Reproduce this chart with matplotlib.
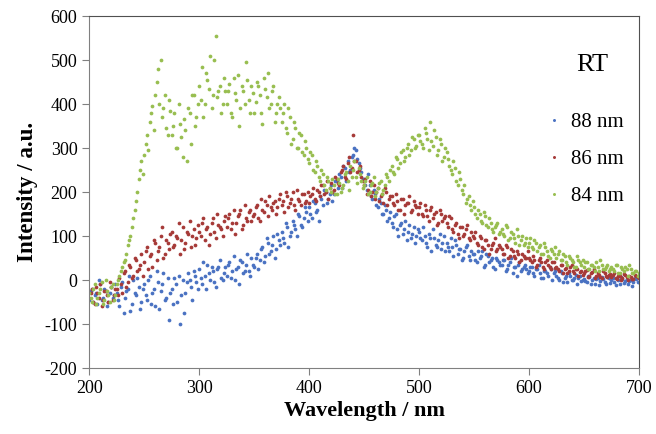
import numpy as np
import matplotlib.pyplot as plt

# wavelength grids (nm): two interleaved sets of readings, 2.5 nm apart each
wavelength = np.arange(200, 700.01, 2.5)
wavelength_b = np.arange(201.25, 700, 2.5)

# intensities (a.u.)
i88 = [
    -45, -20, -35, -55, -10, -40, -25, -50, -15, -35,
    -30, -60, -5, -40, -20, -70, 0, -35, -15, -50,
    -10, -45, 10, -30, -60, -5, -25, 15, -40, -90,
    -20, 5, -50, -100, 0, -30, 15, -15, 20, -5,
    25, -10, 10, 35, 0, 20, -15, 30, 5, 15,
    10, 40, 20, 0, 30, 45, 15, 35, 20, 50,
    30, 60, 45, 75, 55, 85, 65, 100, 70, 90,
    110, 85, 120, 100, 135, 115, 150, 125, 140, 155,
    165, 140, 175, 160, 190, 170, 200, 185, 215, 195,
    225, 240, 210, 255, 270, 250, 285, 295, 265, 245,
    230, 205, 215, 185, 195, 165, 175, 150, 160, 140,
    130, 145, 115, 125, 105, 135, 110, 95, 120, 100,
    110, 90, 100, 75, 95, 115, 80, 90, 70, 100,
    85, 65, 75, 90, 60, 70, 50, 75, 55, 65,
    60, 40, 50, 65, 35, 55, 45, 30, 50, 40,
    35, 45, 25, 40, 15, 30, 35, 20, 30, 25,
    20, 30, 10, 25, 15, 5, 20, 10, 25, 15,
    10, 0, 15, 5, -5, 10, 0, 12, 5, -2,
    3, -5, 8, 0, -8, 5, -3, 2, -10, 4,
    0, -5, 5, -8, 2, -3, -10, 0, -5, 3,
    -5,
]
i88_b = [
    -25, -50, -30, 0, -45, -20, -60, -30, -40, -10,
    -45, -15, -75, -25, 10, -55, -30, 5, -65, -20,
    -35, 0, -55, -20, 20, -65, -10, -45, 5, -30,
    -55, -10, 10, -35, -75, -5, 0, -45, 10, -20,
    5, 40, -20, 15, 30, -5, 25, 45, 0, 30,
    35, 5, 55, 25, -10, 40, 20, 60, 10, 35,
    50, 25, 70, 40, 95, 60, 80, 50, 105, 80,
    95, 130, 75, 110, 125, 100, 145, 120, 165, 135,
    150, 180, 155, 135, 185, 205, 175, 195, 180, 225,
    210, 235, 260, 225, 245, 280, 300, 275, 255, 230,
    215, 240, 190, 205, 170, 185, 150, 170, 135, 155,
    120, 150, 100, 130, 115, 90, 125, 105, 85, 115,
    95, 120, 85, 105, 65, 95, 75, 105, 85, 65,
    75, 95, 55, 80, 70, 45, 65, 80, 45, 60,
    45, 65, 55, 30, 60, 40, 50, 25, 45, 35,
    45, 20, 35, 50, 30, 10, 40, 25, 35, 15,
    30, 15, 25, 35, 5, 20, 15, 30, 0, 20,
    5, 20, -5, 10, 15, 0, 5, -8, 10, 0,
    -2, 10, -10, 5, 2, -12, 6, -4, 8, -6,
    4, -12, 0, 6, -6, 3, -2, -14, 5, -4,
]

i86 = [
    -40, -20, -55, -30, -10, -45, -25, -50, -15, -35,
    -20, 5, -30, 20, -5, 30, 10, 45, 25, 60,
    40, 75, 55, 30, 85, 65, 100, 50, 90, 70,
    110, 80, 95, 60, 120, 85, 105, 75, 115, 95,
    110, 130, 90, 120, 105, 140, 95, 125, 115, 135,
    120, 150, 130, 105, 145, 160, 125, 140, 155, 135,
    150, 170, 135, 160, 180, 145, 165, 175, 150, 185,
    170, 155, 190, 175, 200, 160, 185, 170, 195, 180,
    175, 195, 185, 205, 190, 215, 200, 185, 220, 205,
    230, 215, 250, 235, 265, 245, 330, 270, 250, 235,
    215, 195, 225, 200, 185, 210, 190, 175, 200, 185,
    190, 170, 180, 160, 185, 170, 175, 155, 180, 165,
    165, 150, 170, 145, 160, 140, 155, 130, 150, 140,
    130, 145, 115, 125, 105, 120, 100, 115, 95, 110,
    95, 85, 100, 75, 90, 80, 70, 85, 65, 80,
    70, 60, 75, 55, 65, 50, 60, 45, 55, 50,
    50, 40, 45, 35, 50, 30, 40, 35, 25, 40,
    30, 20, 35, 25, 15, 30, 20, 25, 10, 20,
    15, 22, 10, 18, 5, 15, 8, 20, 10, 12,
    8, 15, 2, 10, 5, 12, 0, 8, 3, 10,
    5,
]
i86_b = [
    -30, -50, -15, -40, -60, -25, -35, -5, -45, -20,
    -35, -10, 15, -15, 35, 5, 50, 20, 35, 10,
    65, 25, 60, 90, 45, 75, 120, 60, 85, 105,
    75, 100, 130, 90, 70, 110, 135, 100, 80, 125,
    100, 140, 115, 80, 130, 110, 150, 120, 100, 145,
    140, 115, 160, 130, 150, 115, 170, 135, 160, 145,
    165, 140, 185, 155, 170, 190, 160, 180, 165, 195,
    180, 200, 165, 185, 170, 205, 180, 195, 175, 200,
    190, 210, 180, 200, 215, 195, 225, 210, 200, 235,
    220, 245, 260, 230, 280, 255, 270, 245, 260, 225,
    230, 205, 190, 215, 200, 180, 195, 210, 170, 190,
    175, 195, 160, 185, 150, 175, 190, 160, 170, 150,
    175, 145, 160, 135, 165, 150, 125, 160, 135, 145,
    120, 140, 110, 130, 95, 120, 105, 125, 90, 100,
    110, 80, 95, 70, 90, 60, 80, 95, 70, 75,
    60, 80, 50, 70, 55, 65, 40, 60, 50, 65,
    45, 55, 30, 45, 40, 25, 45, 30, 40, 28,
    25, 35, 15, 28, 20, 35, 15, 25, 18, 12,
    20, 8, 15, 25, 10, 12, 5, 16, 8, 14,
    12, 4, 10, 0, 14, 6, 10, 2, 12, 6,
]

i84 = [
    -30, -50, -10, -40, -20, -55, 0, -35, -15, -45,
    -10, 10, 30, 45, 80, 100, 140, 180, 230, 270,
    285, 330, 360, 395, 420, 480, 500, 390, 345, 410,
    330, 380, 300, 355, 280, 340, 390, 310, 420, 370,
    440, 485, 400, 455, 510, 420, 555, 430, 380, 460,
    400, 445, 370, 425, 465, 390, 430, 495, 410, 440,
    380, 450, 420, 355, 435, 470, 400, 440, 380, 415,
    360, 400, 335, 370, 320, 345, 300, 330, 285, 300,
    265, 285, 245, 260, 225, 240, 205, 225, 200, 215,
    195, 220, 210, 240, 225, 260, 250, 235, 255, 225,
    215, 235, 200, 220, 190, 210, 225, 205, 240, 225,
    260, 240, 275, 265, 295, 280, 310, 295, 320, 305,
    330, 310, 345, 320, 360, 305, 325, 295, 310, 280,
    290, 260, 240, 255, 215, 230, 195, 175, 190, 160,
    165, 140, 150, 130, 145, 120, 130, 110, 125, 105,
    115, 100, 120, 95, 105, 85, 100, 90, 80, 95,
    85, 75, 90, 65, 80, 60, 75, 55, 70, 60,
    50, 65, 45, 55, 35, 50, 40, 30, 45, 35,
    30, 40, 25, 35, 20, 30, 45, 25, 30, 20,
    30, 20, 35, 15, 25, 30, 10, 25, 15, 20,
    15,
]
i84_b = [
    -40, -20, -55, -30, -5, -45, -25, -50, -10, -35,
    0, 20, 40, 60, 90, 120, 160, 200, 250, 240,
    310, 295, 380, 340, 450, 400, 370, 420, 330, 385,
    350, 300, 400, 325, 365, 270, 380, 420, 350, 400,
    410, 370, 470, 435, 390, 500, 415, 440, 400, 430,
    430, 380, 460, 410, 350, 440, 400, 455, 380, 425,
    405, 440, 380, 460, 415, 390, 430, 360, 400, 390,
    380, 345, 390, 310, 360, 300, 335, 290, 315, 275,
    290, 250, 270, 235, 250, 215, 235, 210, 230, 195,
    230, 200, 215, 245, 205, 235, 270, 220, 240, 210,
    225, 195, 215, 235, 200, 220, 195, 215, 235, 250,
    245, 280, 255, 290, 270, 300, 285, 325, 300, 330,
    315, 300, 335, 295, 315, 340, 285, 320, 270, 300,
    275, 250, 270, 225, 245, 205, 215, 185, 170, 180,
    150, 160, 135, 155, 125, 140, 115, 120, 130, 110,
    105, 125, 90, 110, 95, 115, 80, 100, 85, 75,
    95, 70, 85, 75, 60, 85, 65, 50, 65, 75,
    60, 45, 60, 40, 55, 45, 30, 55, 40, 45,
    40, 25, 35, 30, 40, 20, 35, 25, 35, 25,
    25, 35, 15, 30, 20, 25, 35, 15, 20, 10,
]

labels = ['88 nm', '86 nm', '84 nm']
colors = ['#4A72C2', '#A63A38', '#98BE50']

plt.rcParams['font.family'] = ['Liberation Serif', 'DejaVu Serif']
plt.rcParams['axes.unicode_minus'] = False

fig = plt.figure(figsize=(6.56, 4.34), dpi=100)
ax = fig.add_axes([0.136, 0.152, 0.838, 0.811])

wl_all = np.concatenate([wavelength, wavelength_b])
series = [i88 + i88_b, i86 + i86_b, i84 + i84_b]
for y, lab, c in zip(series, labels, colors):
    ax.plot(wl_all, y, 'o', ms=2.7, color=c, mec='none', label=lab)

ax.set_xlim(200, 700)
ax.set_ylim(-200, 600)
ax.set_xticks(range(200, 701, 100))
ax.set_yticks(range(-200, 601, 100))
ax.tick_params(labelsize=13, length=5, color='#808080', direction='out')

for s in ['left', 'bottom']:
    ax.spines[s].set_color('#808080')
for s in ['top', 'right']:
    ax.spines[s].set_color('#505050')

ax.set_xlabel('Wavelength / nm', fontsize=16, fontweight='bold', labelpad=3)
ax.set_ylabel('Intensity / a.u.', fontsize=16.5, fontweight='bold', labelpad=5)

ax.text(0.915, 0.86, 'RT', transform=ax.transAxes, fontsize=19,
        ha='center', va='center')
ax.legend(loc='upper left', bbox_to_anchor=(0.8, 0.78), frameon=False,
          fontsize=15, handlelength=0.6, handletextpad=0.5,
          labelspacing=0.85, markerscale=0.8)

fig.savefig('out.png', dpi=100)
